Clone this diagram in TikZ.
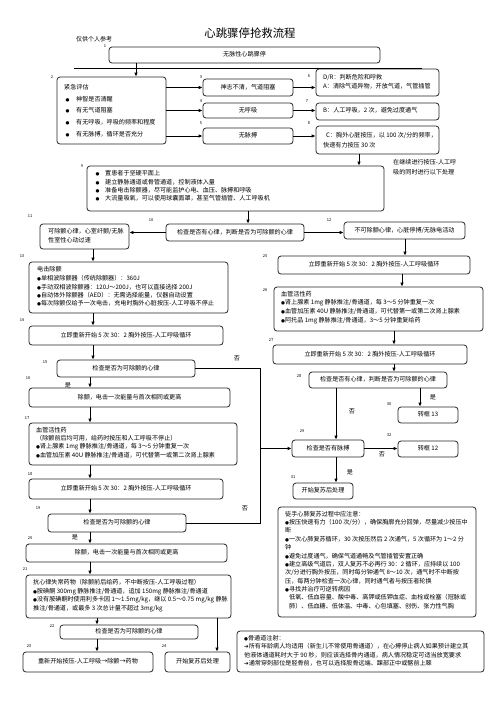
\documentclass[tikz,border=0pt]{standalone}
\usepackage{fontspec}
\setmainfont{Noto Sans CJK SC}
\newfontfamily\djv{DejaVu Sans}
\usetikzlibrary{arrows.meta}
\newcommand\bfs{\fontsize{6.1}{7}\selectfont}
\newcommand\mybul{{\djv\fontsize{4.5}{5}\selectfont ●}}
\newcommand\myarr{{\djv\fontsize{5.5}{6}\selectfont ➔}}
\newcommand\mkbox[5]{\node[bx,minimum width={(#4-#2)*1pt},minimum height={(#5-#3)*1pt}] (#1) at ({(#2+#4)/2},{(#3+#5)/2}) {};}
\begin{document}
\begin{tikzpicture}[x=1pt,y=-1pt,
 bx/.style={draw=black!85,line width=0.8pt,rounded corners=3pt,inner sep=0pt},
 arr/.style={draw=black,line width=0.8pt,-{Latex[length=4pt,width=3.6pt]}},
 ln/.style={draw=black,line width=0.8pt},
 tx/.style={inner sep=0pt,font=\bfs,text height=4.8pt,text depth=1.2pt,anchor=west},
 ct/.style={inner sep=0pt,font=\bfs,text height=4.8pt,text depth=1.2pt},
 num/.style={inner sep=0pt,font=\fontsize{4}{4.5}\selectfont},
 yn/.style={inner sep=0pt,font=\bfs}]
\useasboundingbox (0,0) rectangle (496,702);
% title
\node[inner sep=0pt,font=\fontsize{11.4}{12}\selectfont] (title) at (250,33) {心跳骤停抢救流程};
\node[tx,font=\fontsize{6}{7}\selectfont] (ref) at (76,40) {仅供个人参考};
% boxes
\mkbox{b1}{109}{47}{380}{63}
\mkbox{b2}{57}{77}{166}{144}
\mkbox{b3}{203}{79}{293}{96}
\mkbox{b4}{203}{103}{293}{118}
\mkbox{b5}{203}{128}{293}{144}
\mkbox{b6}{316}{69}{439}{96}
\mkbox{b7}{316}{103}{439}{120}
\mkbox{b8}{316}{126}{439}{154}
\mkbox{b9}{87}{166}{384}{211}
\mkbox{b10}{166}{224}{304}{241}
\mkbox{b11}{40}{224}{129}{249}
\mkbox{b12}{344}{222}{465}{239}
\mkbox{b25}{278}{256}{470}{274}
\mkbox{b13}{29}{262}{228}{313}
\mkbox{b14}{29}{326}{223}{345}
\mkbox{b15}{57}{360}{195}{377}
\mkbox{b16}{29}{388}{230}{407}
\mkbox{b17}{29}{423}{237}{465}
\mkbox{b18}{29}{479}{223}{499}
\mkbox{b19}{48}{514}{186}{532}
\mkbox{b20}{26}{544}{227}{562}
\mkbox{b21}{26}{575}{231}{618}
\mkbox{b22}{60}{625}{198}{639}
\mkbox{b23}{23}{652}{153}{672}
\mkbox{b24}{165}{652}{230}{672}
\mkbox{b26}{274}{287}{483}{331}
\mkbox{b27}{273}{345}{467}{364}
\mkbox{b28}{309}{372}{447}{388}
\mkbox{b29}{292}{440}{364}{457}
\mkbox{b30}{398}{407}{458}{423}
\mkbox{b32}{398}{441}{458}{457}
\mkbox{b31}{293}{483}{353}{499}
\mkbox{bnote}{278}{507}{476}{617}
\mkbox{bbone}{237}{631}{484}{672}
% number labels
\foreach \n/\px/\py in {1/105/46,2/52/77,3/201/77,4/201/101,5/201/123,6/309/76,7/307/101,8/309/123,9/82/166,10/151/220,11/30/216,12/329/220,13/22/256,14/22/320,15/45/362,16/28/378,17/27/418,18/30/474,19/38/508,20/30/538,21/25/569,22/52/626,23/29/646,24/164/646,25/265/256,26/265/290,27/271/340,28/299/376,29/302/431,30/389/404,31/293/477,32/389/435}
  \node[num] (n\n) at (\px,\py) {\n};
% texts
\node[ct] (t1) at (b1) {无脉性心跳骤停};
\node[tx] (t2) at (64,88) {紧急评估};
\foreach \yy/\tt [count=\i] in {100/神智是否清醒,111/有无气道阻塞,123/有无呼吸，呼吸的频率和程度,135/有无脉搏，循环是否充分}{
  \node[tx] (d2\i) at (65.5,\yy) {\mybul};
  \node[tx] (t2\i) at (76,\yy) {\tt};}
\node[ct] (t3) at (b3) {神志不清，气道阻塞};
\node[ct] (t4) at (b4) {无呼吸};
\node[ct] (t5) at (b5) {无脉搏};
\node[tx] (t6a) at (323,78) {D/R：判断危险和呼救};
\node[tx] (t6b) at (323,87) {A：清除气道异物，开放气道，气管插管};
\node[tx] (t7) at (323,111) {B：人工呼吸，2 次，避免过度通气};
\node[tx] (t8a) at (326,136) {C：胸外心脏按压，以 100 次/分的频率，};
\node[tx] (t8b) at (323,146) {快速有力按压 30 次};
\node[tx] (sn1) at (393,163) {在继续进行按压-人工呼};
\node[tx] (sn2) at (393,173) {吸的同时进行以下处理};
\foreach \yy/\tt [count=\i] in {174/置患者于坚硬平面上,183/建立静脉通道或骨管通道，控制液体入量,191/准备电击除颤器，尽可能监护心电、血压、脉搏和呼吸,199/大流量吸氧，可以使用球囊面罩，甚至气管插管、人工呼吸机}{
  \node[tx] (d9\i) at (95.5,\yy) {\mybul};
  \node[tx] (t9\i) at (105,\yy) {\tt};}
\node[ct] (t10) at (b10) {检查是否有心律，判断是否为可除颤的心律};
\node[tx] (t11a) at (48,232) {可除颤心律，心室纤颤/无脉};
\node[tx] (t11b) at (48,241) {性室性心动过速};
\node[ct] (t12) at (b12) {不可除颤心律，心脏停搏/无脉电活动};
\node[ct] (t25) at (b25) {立即重新开始 5 次 30：2 胸外按压-人工呼吸循环};
\node[tx] (t13) at (37,270) {电击除颤};
\node[tx] (t13a) at (37,279) {\mybul 单相波除颤器（传统除颤器）：360J};
\node[tx] (t13b) at (37,288) {\mybul 手动双相波除颤器：120J～200J，也可以直接选择 200J};
\node[tx] (t13c) at (37,296) {\mybul 自动体外除颤器（AED）：无需选择能量，仪器自动设置};
\node[tx] (t13d) at (37,304) {\mybul 每次除颤仅给予一次电击，充电时胸外心脏按压-人工呼吸不停止};
\node[ct] (t14) at (b14) {立即重新开始 5 次 30：2 胸外按压-人工呼吸循环};
\node[ct] (t15) at (b15) {检查是否为可除颤的心律};
\node[ct] (t16) at (b16) {除颤，电击一次能量与首次相同或更高};
\node[tx] (t17) at (36,431) {血管活性药};
\node[tx] (t17a) at (36,439) {（除颤前后均可用，给药时按压和人工呼吸不停止）};
\node[tx] (t17b) at (36,447) {\mybul 肾上腺素 1mg 静脉推注/骨通道，每 3～5 分钟重复一次};
\node[tx] (t17c) at (36,456) {\mybul 血管加压素 40U 静脉推注/骨通道，可代替第一或第二次肾上腺素};
\node[ct] (t18) at (b18) {立即重新开始 5 次 30：2 胸外按压-人工呼吸循环};
\node[ct] (t19) at (b19) {检查是否为可除颤的心律};
\node[ct] (t20) at (b20) {除颤，电击一次能量与首次相同或更高};
\node[tx] (t21) at (33,583) {抗心律失常药物（除颤前后给药，不中断按压-人工呼吸过程）};
\node[tx] (t21a) at (33,592) {\mybul 胺碘酮 300mg 静脉推注/骨通道，追加 150mg 静脉推注/骨通道};
\node[tx] (t21b) at (33,600) {\mybul 没有胺碘酮时使用利多卡因 1～1.5mg/kg，继以 0.5～0.75 mg/kg 静脉};
\node[tx] (t21c) at (33,609) {推注/骨通道，或最多 3 次总计量不超过 3mg/kg};
\node[ct] (t22) at (b22) {检查是否为可除颤的心律};
\node[ct] (t23) at (b23) {重新开始按压-人工呼吸→除颤→药物};
\node[ct] (t24) at (b24) {开始复苏后处理};
\node[tx] (t26) at (281,295) {血管活性药};
\node[tx] (t26a) at (281,303) {\mybul 肾上腺素 1mg 静脉推注/骨通道，每 3～5 分钟重复一次};
\node[tx] (t26b) at (281,312) {\mybul 血管加压素 40U 静脉推注/骨通道，可代替第一或第二次肾上腺素};
\node[tx] (t26c) at (281,321) {\mybul 阿托品 1mg 静脉推注/骨通道，3～5 分钟重复给药};
\node[ct] (t27) at (b27) {立即重新开始 5 次 30：2 胸外按压-人工呼吸循环};
\node[ct] (t28) at (b28) {检查是否有心律，判断是否为可除颤的心律};
\node[ct] (t29) at (b29) {检查是否有脉搏};
\node[ct] (t30) at (b30) {转框 13};
\node[ct] (t32) at (b32) {转框 12};
\node[ct] (t31) at (b31) {开始复苏后处理};
\node[tx] (tn0) at (285,515) {徒手心肺复苏过程中应注意：};
\node[tx] (tn1) at (285,523) {\mybul 按压快速有力（100 次/分），确保胸廓充分回弹，尽量减少按压中};
\node[tx] (tn2) at (285,531) {断};
\node[tx] (tn3) at (285,540) {\mybul 一次心肺复苏循环，30 次按压然后 2 次通气，5 次循环为 1～2 分};
\node[tx] (tn4) at (285,548) {钟};
\node[tx] (tn5) at (285,557) {\mybul 避免过度通气，确保气道通畅及气管插管安置正确};
\node[tx] (tn6) at (285,565) {\mybul 建立高级气道后，双人复苏不必再行 30：2 循环，应持续以 100};
\node[tx] (tn7) at (285,573) {次/分进行胸外按压，同时每分钟通气 8～10 次，通气时不中断按};
\node[tx] (tn8) at (285,582) {压，每两分钟检查一次心律，同时通气者与按压者轮换};
\node[tx] (tn9) at (285,590) {\mybul 寻找并治疗可逆转病因};
\node[tx] (tn10) at (289,598) {低氧、低血容量、酸中毒、高钾或低钾血症、血栓或栓塞（冠脉或};
\node[tx] (tn11) at (289,607) {肺）、低血糖、低体温、中毒、心包填塞、创伤、张力性气胸};
\node[tx] (tb0) at (244,639) {\mybul 骨通道注射：};
\node[tx] (tb1) at (244,647) {\myarr 所有年龄病人均适用（新生儿不常使用骨通道），在心搏停止病人如果预计建立其};
\node[tx] (tb2) at (244,656) {他液体通道耗时大于 90 秒，则应该选择骨内通道，病人情况稳定可适当放宽要求};
\node[tx] (tb3) at (244,664) {\myarr 通常穿刺部位是胫骨前，也可以选择股骨远端、踝部正中或髂前上棘};
% yes/no labels
\node[yn] (no1) at (237,358) {否};
\node[yn] (no2) at (245,508) {否};
\node[yn] (no3) at (352,411) {否};
\node[yn] (no4) at (382,454) {否};
\node[yn] (ye1) at (68,385) {是};
\node[yn] (ye2) at (75,537) {是};
\node[yn] (ye3) at (433,397) {是};
\node[yn] (ye4) at (350,472) {是};
% helper coordinates
\coordinate (hl1) at (74,68);
\coordinate (hl2) at (422,68);
\coordinate (x136) at (136,0);
\coordinate (x359) at (359,0);
\coordinate (x248) at (248,0);
\coordinate (x405) at (405,0);
\coordinate (x93) at (93,0);
\coordinate (x90) at (90,0);
\coordinate (x97) at (97,0);
\coordinate (x217) at (217,0);
\coordinate (x260) at (260,0);
\coordinate (x402) at (402,0);
\coordinate (x394) at (394,0);
\coordinate (x420) at (420,0);
\coordinate (x336) at (336,0);
% connectors
\draw[ln] (hl1) -- (hl2);
\draw[arr] (b1.south -| x136) -- (b2.north -| x136);
\draw[arr] (b2.east |- b3.west) -- (b3.west);
\draw[arr] (b2.east |- b4.west) -- (b4.west);
\draw[arr] (b2.east |- b5.west) -- (b5.west);
\draw[arr] (b3.east) -- (b3.east -| b6.west);
\draw[arr] (b4.east) -- (b4.east -| b7.west);
\draw[arr] (b5.east) -- (b5.east -| b8.west);
\draw[arr] (b8.south -| x359) -- (b9.north -| x359);
\draw[arr] (b9.south -| x248) -- (b10.north -| x248);
\draw[arr] (b10.west) -- (b10.west -| b11.east);
\draw[arr] (b10.east) -- (b10.east -| b12.west);
\draw[arr] (b12.south -| x405) -- (b25.north -| x405);
\draw[arr] (b11.south -| x93) -- (b13.north -| x93);
\draw[arr] (b13.south -| x93) -- (b14.north -| x93);
\draw[arr] (b14.south -| x93) -- (b15.north -| x93);
\draw[arr] (b15.south -| x90) -- (b16.north -| x90);
\draw[arr] (b16.south -| x90) -- (b17.north -| x90);
\draw[arr] (b17.south -| x90) -- (b18.north -| x90);
\draw[arr] (b18.south -| x90) -- (b19.north -| x90);
\draw[arr] (b19.south -| x90) -- (b20.north -| x90);
\draw[arr] (b20.south -| x90) -- (b21.north -| x90);
\draw[arr] (b21.south -| x97) -- (b22.north -| x97);
\draw[arr] (b22.south -| x97) -- (b23.north -| x97);
\draw[arr] (b21.south -| x217) -- (b24.north -| x217);
\draw[ln] (b15.east) -- (b15.east -| x260) -- (b19.east -| x260) -- (b19.east);
\draw[arr] (b29.west -| x260) -- (b29.west);
\draw[arr] (b25.south -| x402) -- (b26.north -| x402);
\draw[arr] (b26.south -| x394) -- (b27.north -| x394);
\draw[arr] (b27.south -| x394) -- (b28.north -| x394);
\draw[arr] (b28.south -| x420) -- (b30.north -| x420);
\draw[arr] (b28.south -| x336) -- (b29.north -| x336);
\draw[arr] (b29.east) -- (b29.east -| b32.west);
\draw[arr] (b29.south -| x336) -- (b31.north -| x336);
\end{tikzpicture}
\end{document}
